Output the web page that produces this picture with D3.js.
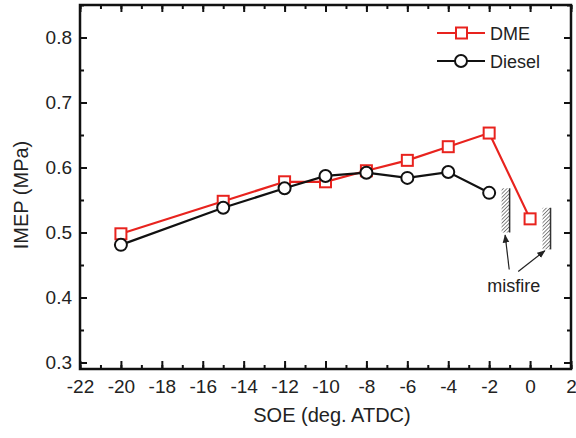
<!DOCTYPE html>
<html>
<head>
<meta charset="utf-8">
<script src="https://d3js.org/d3.v7.min.js"></script>
<style>
  body { margin: 0; background: #fff; }
  svg text { font-family: "Liberation Sans", Arial, sans-serif; fill: #222; }
</style>
</head>
<body>
<svg id="chart" width="576" height="438"></svg>
<script>
// data
var soeDME = [-20, -15, -12, -10, -8, -6, -4, -2, 0];
var imepDME = [0.498, 0.548, 0.578, 0.578, 0.595, 0.611, 0.632, 0.653, 0.521];
var soeDiesel = [-20, -15, -12, -10, -8, -6, -4, -2];
var imepDiesel = [0.481, 0.538, 0.568, 0.587, 0.592, 0.584, 0.593, 0.561];
var xTicks = [-22, -20, -18, -16, -14, -12, -10, -8, -6, -4, -2, 0, 2];
var yTicks = [0.3, 0.4, 0.5, 0.6, 0.7, 0.8];
// misfire marks: soe position and imep range
var misfireX = [-1, 1];
var misfireY0 = [0.500, 0.474];
var misfireY1 = [0.568, 0.538];

var svg = d3.select("#chart");
var pLeft = 80, pRight = 571, pTop = 5, pBottom = 369;

var x = d3.scaleLinear().domain([-22, 2]).range([pLeft, pRight]);
var y = d3.scaleLinear().domain([0.29, 0.85]).range([pBottom, pTop]);

var red = "#e8231e";

var defs = svg.append("defs");
var pat = defs.append("pattern")
  .attr("id", "hatch")
  .attr("patternUnits", "userSpaceOnUse")
  .attr("width", 2.6).attr("height", 2.6)
  .attr("patternTransform", "rotate(45)");
pat.append("line")
  .attr("x1", 0).attr("y1", 0).attr("x2", 0).attr("y2", 2.6)
  .attr("stroke", "#444").attr("stroke-width", 1.3);

defs.append("marker")
  .attr("id", "arrow")
  .attr("viewBox", "0 0 10 10")
  .attr("refX", 9).attr("refY", 5)
  .attr("markerWidth", 7).attr("markerHeight", 7)
  .attr("orient", "auto")
  .append("path").attr("d", "M0,1 L10,5 L0,9 Z").attr("fill", "#222");

// axes (ticks point inward)
function styleAxis(g) {
  g.select(".domain").remove();
  g.selectAll(".tick line").attr("stroke", "#111").attr("stroke-width", 2);
  g.selectAll("text").attr("font-size", 19).attr("fill", "#222")
    .attr("font-family", "Liberation Sans, Arial, sans-serif");
}
var xMinor = d3.range(-22, 2.01, 1);
var yMinor = d3.range(0.3, 0.851, 0.05);

svg.append("g").attr("transform", "translate(0," + pBottom + ")")
  .call(d3.axisBottom(x).tickValues(xMinor).tickSize(-4).tickFormat(""))
  .call(styleAxis);
svg.append("g").attr("transform", "translate(0," + pBottom + ")")
  .call(d3.axisBottom(x).tickValues(xTicks).tickSize(-8).tickPadding(11)
    .tickFormat(function(d) { return String(d); }))
  .call(styleAxis);
svg.append("g").attr("transform", "translate(0," + pTop + ")")
  .call(d3.axisTop(x).tickValues(xMinor).tickSize(-4).tickFormat(""))
  .call(styleAxis);
svg.append("g").attr("transform", "translate(0," + pTop + ")")
  .call(d3.axisTop(x).tickValues(xTicks).tickSize(-7).tickFormat(""))
  .call(styleAxis);

svg.append("g").attr("transform", "translate(" + pLeft + ",0)")
  .call(d3.axisLeft(y).tickValues(yMinor).tickSize(-4).tickFormat(""))
  .call(styleAxis);
svg.append("g").attr("transform", "translate(" + pLeft + ",0)")
  .call(d3.axisLeft(y).tickValues(yTicks).tickSize(-7).tickPadding(8).tickFormat(d3.format(".1f")))
  .call(styleAxis);
svg.append("g").attr("transform", "translate(" + pRight + ",0)")
  .call(d3.axisRight(y).tickValues(yMinor).tickSize(-4).tickFormat(""))
  .call(styleAxis);
svg.append("g").attr("transform", "translate(" + pRight + ",0)")
  .call(d3.axisRight(y).tickValues(yTicks).tickSize(-7).tickFormat(""))
  .call(styleAxis);

svg.append("rect")
  .attr("x", pLeft).attr("y", pTop)
  .attr("width", pRight - pLeft).attr("height", pBottom - pTop)
  .attr("fill", "none").attr("stroke", "#111").attr("stroke-width", 2.5);

// axis titles
svg.append("text")
  .attr("x", 332).attr("y", 422)
  .attr("text-anchor", "middle").attr("font-size", 20)
  .text("SOE (deg. ATDC)");
svg.append("text")
  .attr("transform", "translate(28,195) rotate(-90)")
  .attr("text-anchor", "middle").attr("font-size", 20)
  .text("IMEP (MPa)");

// misfire hatches
misfireX.forEach(function(v, i) {
  svg.append("rect")
    .attr("x", x(v) - 8).attr("y", y(misfireY1[i]))
    .attr("width", 8).attr("height", y(misfireY0[i]) - y(misfireY1[i]))
    .attr("fill", "url(#hatch)");
  svg.append("line")
    .attr("x1", x(v)).attr("x2", x(v))
    .attr("y1", y(misfireY1[i])).attr("y2", y(misfireY0[i]))
    .attr("stroke", "#333").attr("stroke-width", 1.5);
});

svg.append("line")
  .attr("x1", x(-1.02)).attr("y1", y(0.443))
  .attr("x2", x(-1.22)).attr("y2", y(0.496))
  .attr("stroke", "#222").attr("stroke-width", 1.2)
  .attr("marker-end", "url(#arrow)");
svg.append("line")
  .attr("x1", x(-0.58)).attr("y1", y(0.44))
  .attr("x2", x(0.72)).attr("y2", y(0.472))
  .attr("stroke", "#222").attr("stroke-width", 1.2)
  .attr("marker-end", "url(#arrow)");
svg.append("text")
  .attr("x", x(-0.8)).attr("y", y(0.408))
  .attr("text-anchor", "middle").attr("font-size", 18)
  .text("misfire");

// series
var line = d3.line().x(function(d) { return x(d[0]); }).y(function(d) { return y(d[1]); });
var dme = d3.zip(soeDME, imepDME);
var diesel = d3.zip(soeDiesel, imepDiesel);

svg.append("path").datum(dme)
  .attr("d", line).attr("fill", "none").attr("stroke", red).attr("stroke-width", 2.2);
svg.selectAll(".sq").data(dme).enter().append("rect")
  .attr("x", function(d) { return x(d[0]) - 5.5; })
  .attr("y", function(d) { return y(d[1]) - 5.5; })
  .attr("width", 11).attr("height", 11)
  .attr("fill", "#fff").attr("stroke", red).attr("stroke-width", 2);

svg.append("path").datum(diesel)
  .attr("d", line).attr("fill", "none").attr("stroke", "#111").attr("stroke-width", 2.2);
svg.selectAll(".ci").data(diesel).enter().append("circle")
  .attr("cx", function(d) { return x(d[0]); })
  .attr("cy", function(d) { return y(d[1]); })
  .attr("r", 6)
  .attr("fill", "#fff").attr("stroke", "#111").attr("stroke-width", 2);

// legend
var lg = svg.append("g");
lg.append("line").attr("x1", 437).attr("x2", 485).attr("y1", 33).attr("y2", 33)
  .attr("stroke", red).attr("stroke-width", 2.2);
lg.append("rect").attr("x", 456).attr("y", 27.5).attr("width", 11).attr("height", 11)
  .attr("fill", "#fff").attr("stroke", red).attr("stroke-width", 2);
lg.append("text").attr("x", 490).attr("y", 39.5).attr("font-size", 18).text("DME");
lg.append("line").attr("x1", 437).attr("x2", 485).attr("y1", 61).attr("y2", 61)
  .attr("stroke", "#111").attr("stroke-width", 2.2);
lg.append("circle").attr("cx", 461).attr("cy", 61).attr("r", 6)
  .attr("fill", "#fff").attr("stroke", "#111").attr("stroke-width", 2);
lg.append("text").attr("x", 490).attr("y", 67.5).attr("font-size", 18).text("Diesel");
</script>
</body>
</html>
